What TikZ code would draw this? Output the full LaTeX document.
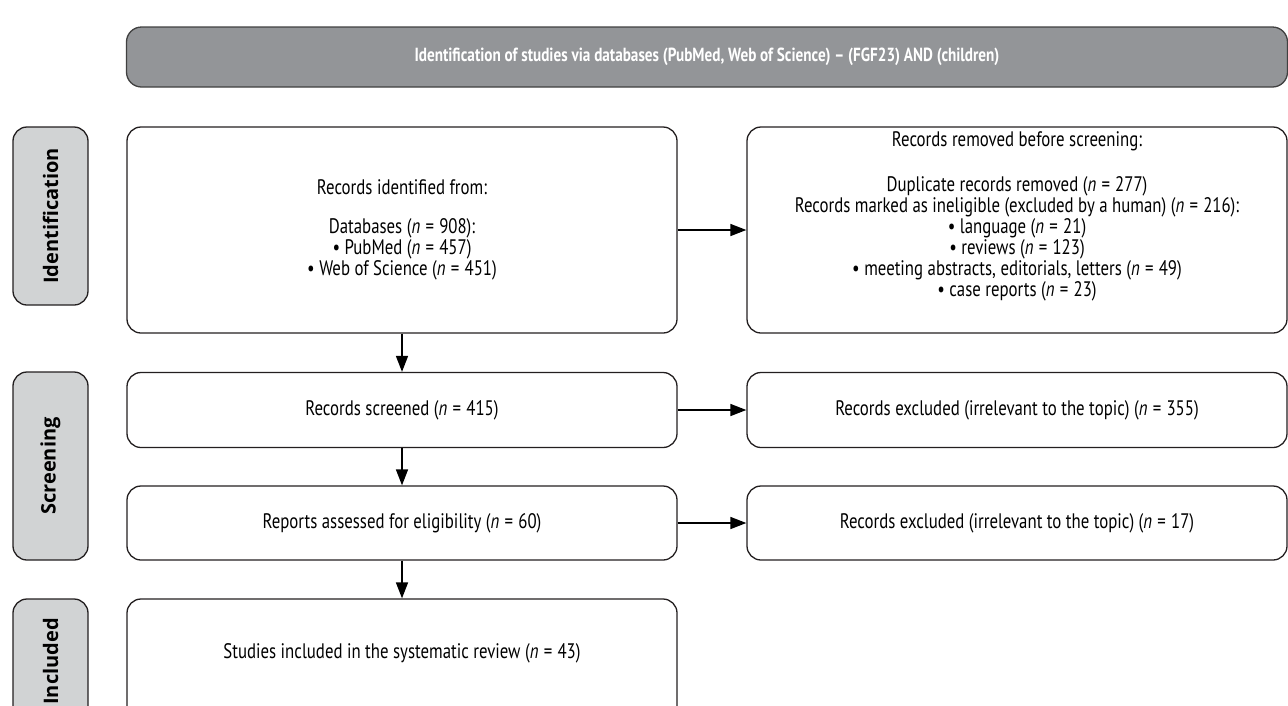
\documentclass[tikz,border=0pt]{standalone}
\usepackage{fontspec}
\setmainfont{PT Sans}[FakeStretch=0.8]
\newfontfamily\sidefont{Open Sans}
\usepackage{tikz}
\usetikzlibrary{positioning,arrows.meta}

\definecolor{bannergray}{HTML}{939598}
\definecolor{sidegray}{HTML}{D1D3D4}
\definecolor{edgegray}{HTML}{231F20}

\newcommand{\nn}[1]{\textit{n}\hspace{0.25em}=\hspace{0.25em}#1}

\tikzset{
    box/.style={draw=edgegray, line width=1.3pt, rounded corners=14pt, align=center,
        font=\fontsize{21}{21}\selectfont},
    leftbox/.style={box, minimum width=550pt},
    rightbox/.style={box, minimum width=540pt},
    sidebox/.style={draw=edgegray, line width=1.3pt, rounded corners=14pt, fill=sidegray,
        rotate=90, minimum height=75pt, font=\sidefont\bfseries\fontsize{20}{22}\selectfont},
    banner/.style={draw=black!75, line width=1.3pt, rounded corners=15pt, fill=bannergray,
        text=white, font=\bfseries\fontsize{19}{22}\selectfont},
    arr/.style={line width=1.6pt, -{Triangle[length=16pt,width=12pt]}}
}

\begin{document}
\begin{tikzpicture}[x=1pt, y=-1pt]
    \clip (0,0) rectangle (1288,705);
    \useasboundingbox (0,0) rectangle (1288,705);

    \node[banner, minimum width=1161pt, minimum height=60pt] (top) at (707,57)
        {Identification of studies via databases (PubMed, Web of Science) -- (FGF23) AND (children)};

    \node[sidebox, minimum width=178pt] (sideid) at (50.5,216) {Identification};
    \node[sidebox, minimum width=188pt] (sidescr) at (50.5,466) {Screening};
    \node[sidebox, minimum width=125pt] (sideinc) at (50.5,661.5) {Included};

    \node[leftbox, minimum height=206pt] (ident) at (402,230)
        {Records identified from:\\[18pt]
         Databases (\nn{908}):\\
         • PubMed (\nn{457})\\
         • Web of Science (\nn{451})};
    \node[rightbox, minimum height=206pt] (removed) at (1017,230)
        {Records removed before screening:\\[24pt]
         Duplicate records removed (\nn{277})\\
         Records marked as ineligible (excluded by a human) (\nn{216}):\\
         • language (\nn{21})\\
         • reviews (\nn{123})\\
         • meeting abstracts, editorials, letters (\nn{49})\\
         • case reports (\nn{23})\\[10pt]
         \mbox{}};

    \node[leftbox, minimum height=75pt] (screened) at (402,410) {Records screened (\nn{415})};
    \node[rightbox, minimum height=75pt] (excl1) at (1017,410)
        {Records excluded (irrelevant to the topic) (\nn{355})};

    \node[leftbox, minimum height=74pt] (eligible) at (402,523) {Reports assessed for eligibility (\nn{60})};
    \node[rightbox, minimum height=74pt] (excl2) at (1017,523)
        {Records excluded (irrelevant to the topic) (\nn{17})};

    \node[leftbox, minimum height=125pt] (included) at (402,661.5)
        {Studies included in the systematic review (\nn{43})\\ \mbox{}};

    \draw[arr] (ident) -- (removed);
    \draw[arr] (ident) -- (screened);
    \draw[arr] (screened) -- (excl1);
    \draw[arr] (screened) -- (eligible);
    \draw[arr] (eligible) -- (excl2);
    \draw[arr] (eligible) -- (included);
\end{tikzpicture}
\end{document}
